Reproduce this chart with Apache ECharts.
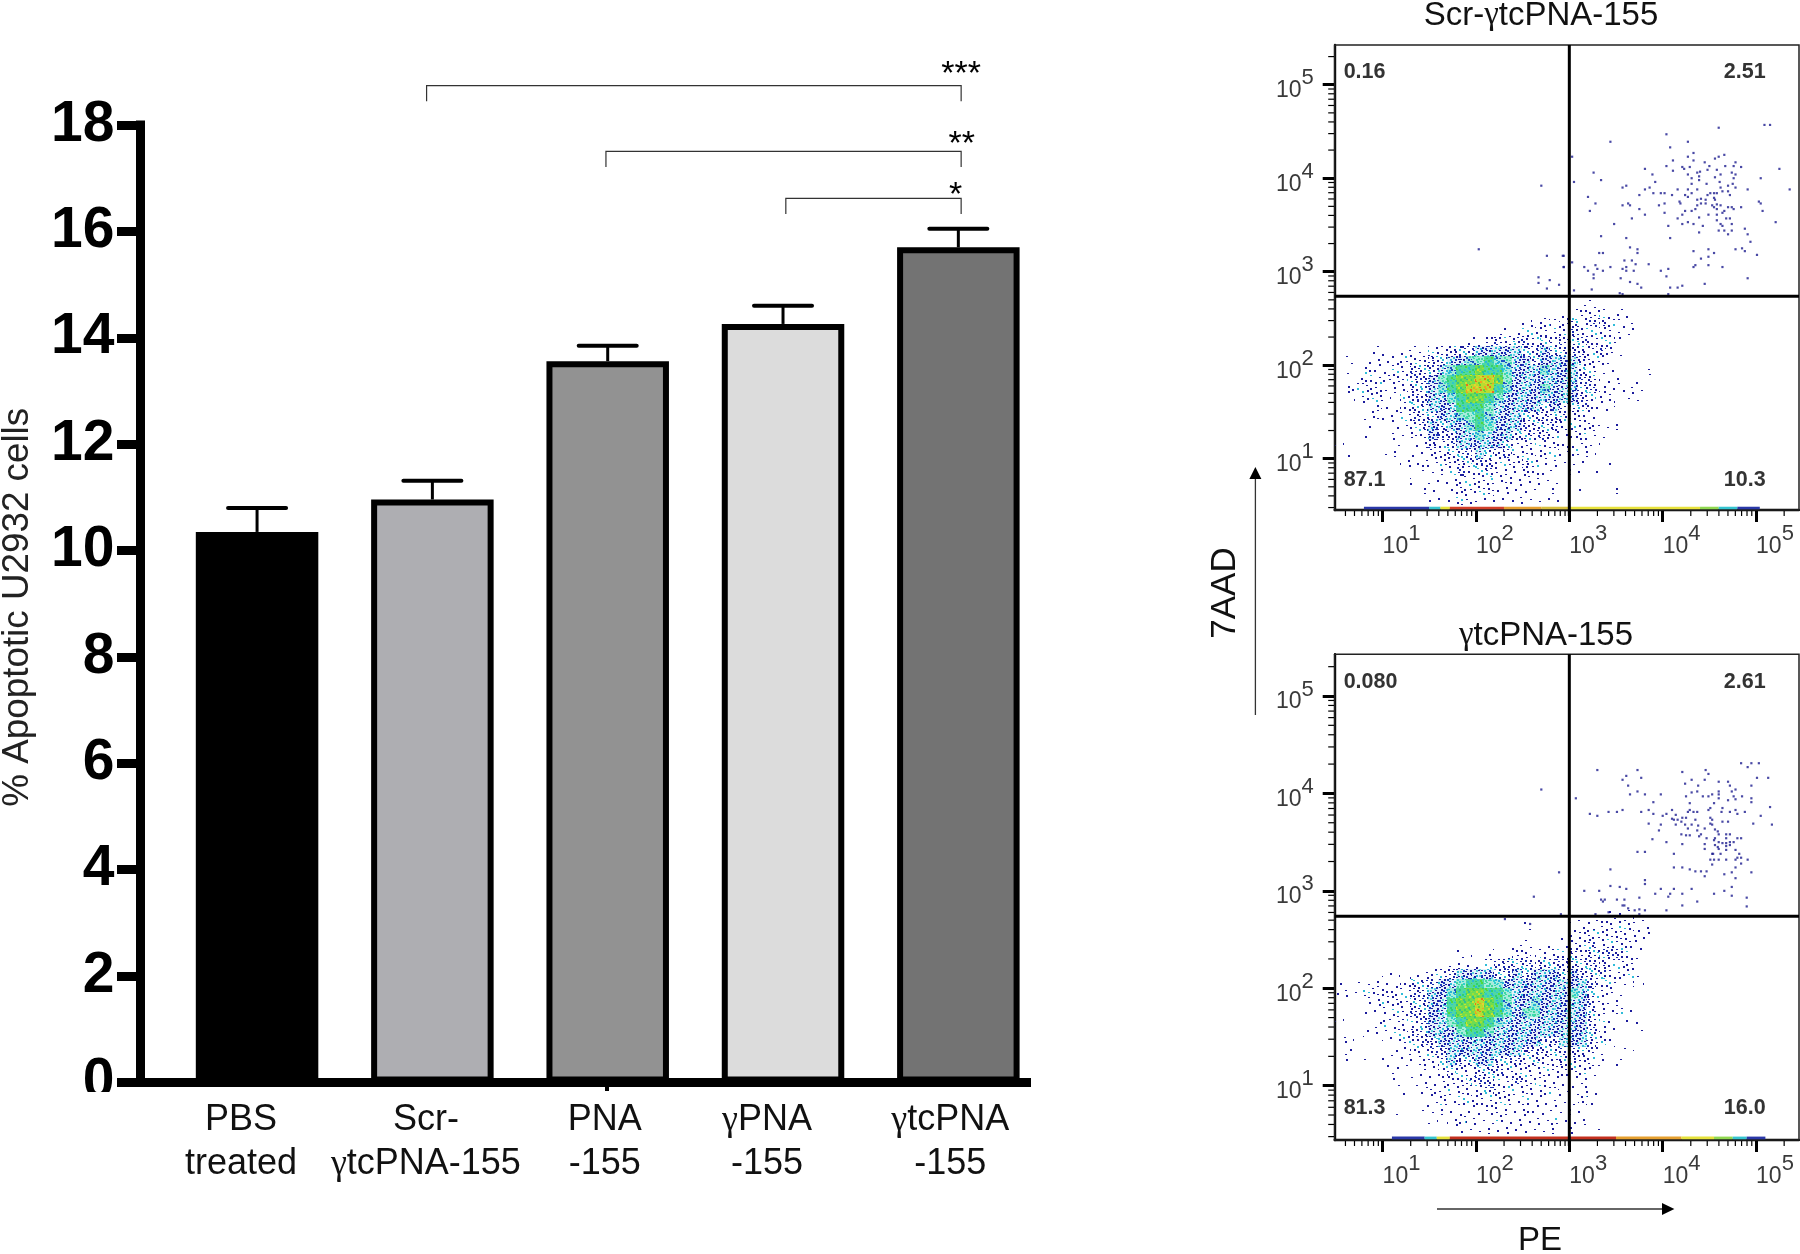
<!DOCTYPE html>
<html><head><meta charset="utf-8">
<script src="https://cdn.jsdelivr.net/npm/echarts@6/dist/echarts.min.js"></script>
<style>html,body{margin:0;padding:0;background:#fff}#c{width:1800px;height:1254px}</style>
</head><body><div id="c"></div>
<script>
// ---------- bar panel ----------
const categories = ['PBS\ntreated','Scr-\nγtcPNA-155','PNA\n-155','γPNA\n-155','γtcPNA\n-155'];
const barValues = [10.35,10.96,13.56,14.26,15.7];
const errorTops = [10.8,11.31,13.85,14.6,16.05];
const barFills = ['#000000','#aeaeb2','#929292','#dcdcdc','#737373'];
const yTicks = [0,18,2];
const bracketStarts = [0.967,1.99,3.016];
const bracketEnds = [4.016,4.016,4.016];
const bracketTops = [18.74,17.505,16.62];
const bracketFeet = [18.445,17.21,16.325];
const starLabels = ['***','**','*'];
const starX = [4.016,4.02,3.985];
const starY = [19.09,17.79,16.82];
const labelShift = [32,13,6,32,16];

// ---------- flow panels (all log10 units) ----------
const decades = [1,2,3,4,5];
const flowXRange = [0.487,5.46];
const flowYRange1 = [0.451,5.425];
const flowYRange2 = [0.4425,5.428];
const gate1 = [3.0,2.737];
const gate2 = [3.0,2.739];
const gateLabels1 = ['0.16','2.51','87.1','10.3'];
const gateLabels2 = ['0.080','2.61','81.3','16.0'];
const gateLabelX = [0.583,4.655,0.583,4.655];
const gateLabelY1 = [5.136,5.136,0.772,0.772];
const gateLabelY2 = [5.147,5.147,0.771,0.771];
const densityOrigin = [0.49,2.8];
const densityStep = 0.1;
const density1 = [
'0000000000'+'0000000000'+'0000000000'+'0000',
'0000000000'+'0000000000'+'0000001110'+'0000',
'0000000000'+'0000000000'+'0000112221'+'1100',
'0000000000'+'0000000000'+'1221232332'+'1100',
'0000000000'+'0000000111'+'2222232222'+'1100',
'0000000000'+'0001112323'+'3232333222'+'1000',
'0000110111'+'2233344444'+'3343333232'+'1000',
'0101111222'+'3344556554'+'4344443221'+'0000',
'0102112233'+'3456676654'+'4454443211'+'0001',
'0022222233'+'4567788754'+'4444443311'+'1010',
'0222211233'+'4567888654'+'4454443321'+'1110',
'0012210233'+'4456776544'+'4444443212'+'0110',
'0000211233'+'4446665444'+'4434333211'+'0000',
'0001211233'+'3445565444'+'3333322100'+'0000',
'0001001123'+'4344565444'+'3333222211'+'1000',
'0001001122'+'4334454443'+'3332122110'+'0000',
'1000001011'+'3234444432'+'2222212110'+'0000',
'0100011011'+'2233343232'+'2222121100'+'0000',
'0000000112'+'1223333222'+'3211111001'+'0000',
'0000000001'+'1123223211'+'2211011010'+'0000',
'0000000010'+'1112222121'+'1111000000'+'0000',
'0000000001'+'1012222111'+'1101001000'+'1000',
'0000000000'+'1112211111'+'1111000000'+'0000'];
const density2 = [
'0000000000'+'0000000000'+'0000000001'+'1100',
'0000000000'+'0000000000'+'1000011122'+'2211',
'0000000000'+'0000000000'+'0000112222'+'2211',
'0000000000'+'0000000001'+'1110122322'+'2210',
'0000000000'+'0001101012'+'2122232333'+'3210',
'0000000000'+'0011112333'+'3333333332'+'2200',
'0000011011'+'2234444334'+'3444343332'+'2210',
'1011111233'+'3445665544'+'4444444322'+'1101',
'1112222233'+'4456776654'+'4444454322'+'1000',
'0001122233'+'4467787654'+'4544444321'+'1000',
'0001112233'+'4467787654'+'5544444321'+'2100',
'1000121223'+'4456776544'+'4444444321'+'0110',
'0001112233'+'4445665444'+'4444444321'+'0010',
'0100011223'+'3444444444'+'4433444321'+'0000',
'0110001122'+'3344444444'+'3333333210'+'0100',
'0101010112'+'2343344333'+'2322332210'+'1000',
'0000011001'+'1232233322'+'2222222110'+'0000',
'0000001011'+'1222333223'+'2221111000'+'0000',
'0000000101'+'2122223222'+'2222112110'+'0000',
'0000000000'+'1212222221'+'2111112100'+'0000',
'0000001001'+'1111112211'+'2111111000'+'0000',
'0000000000'+'1012111211'+'1112111000'+'0000',
'0000000000'+'0001111111'+'1111010010'+'0000'];
const strip1 = [[0.8,1.5,'#2a38a8'],[1.5,1.62,'#35c4d0'],[1.62,1.72,'#e6e23c'],[1.72,2.3,'#d2402a'],[2.3,2.7,'#e6a030'],[2.7,3.0,'#d8c040'],[3.0,4.4,'#e8e23c'],[4.4,4.6,'#90d850'],[4.6,4.8,'#35c4d0'],[4.8,5.04,'#2a38a8']];
const strip2 = [[1.1,1.45,'#2a38a8'],[1.45,1.58,'#35c4d0'],[1.58,1.72,'#e6e23c'],[1.72,3.5,'#c4301e'],[3.5,4.2,'#e6a030'],[4.2,4.55,'#e6e23c'],[4.55,4.75,'#90d850'],[4.75,4.9,'#35c4d0'],[4.9,5.1,'#2a38a8']];
const points1 = [[4.60,4.54],[5.09,4.57],[5.15,4.57],[4.04,4.47],[3.44,4.39],[4.27,4.39],[4.08,4.33],[4.33,4.27],[4.27,4.23],[4.66,4.25],[4.60,4.23],[4.56,4.21],[4.11,4.19],[4.33,4.19],[4.45,4.17],[4.50,4.13],[4.78,4.17],[4.67,4.13],[4.76,4.13],[4.04,4.13],[4.21,4.12],[4.29,4.12],[4.23,4.10],[4.84,4.12],[3.81,4.10],[4.11,4.08],[4.48,4.09],[4.58,4.09],[5.25,4.10],[3.26,4.06],[4.40,4.07],[4.37,4.06],[4.74,4.06],[3.89,4.04],[4.27,4.04],[4.78,4.04],[4.62,4.04],[4.31,4.00],[4.39,4.02],[4.56,4.01],[5.05,4.00],[3.34,3.98],[3.05,3.96],[3.92,3.96],[4.39,3.98],[4.61,3.96],[4.76,4.00],[4.31,3.94],[4.47,3.94],[4.75,3.94],[3.61,3.92],[3.57,3.90],[3.86,3.90],[4.16,3.88],[4.27,3.88],[4.37,3.88],[4.62,3.90],[4.78,3.90],[4.70,3.92],[3.81,3.88],[4.91,3.88],[5.36,3.88],[3.90,3.84],[3.98,3.84],[4.02,3.84],[4.31,3.84],[4.64,3.86],[4.70,3.86],[4.51,3.84],[4.55,3.84],[4.58,3.84],[3.75,3.82],[4.24,3.82],[4.10,3.82],[4.27,3.80],[3.20,3.80],[4.48,3.82],[4.72,3.82],[4.55,3.79],[4.41,3.78],[4.18,3.75],[4.37,3.77],[4.46,3.77],[4.56,3.77],[5.03,3.75],[3.28,3.73],[3.63,3.73],[4.02,3.73],[4.19,3.73],[4.41,3.73],[4.46,3.73],[3.57,3.71],[3.96,3.71],[4.37,3.71],[4.53,3.71],[4.58,3.72],[4.62,3.71],[5.05,3.73],[3.65,3.71],[4.55,3.69],[4.70,3.69],[4.74,3.69],[4.84,3.69],[3.75,3.67],[4.31,3.65],[4.35,3.67],[4.58,3.67],[4.66,3.65],[4.76,3.67],[3.22,3.65],[4.24,3.65],[4.02,3.63],[4.49,3.61],[3.81,3.61],[4.21,3.61],[4.58,3.61],[4.64,3.63],[5.07,3.65],[3.67,3.57],[4.16,3.57],[4.39,3.58],[4.68,3.57],[4.72,3.57],[4.27,3.53],[4.58,3.55],[5.21,3.53],[3.48,3.51],[4.21,3.51],[4.33,3.51],[4.62,3.51],[4.06,3.49],[4.43,3.49],[4.64,3.49],[4.74,3.51],[4.88,3.46],[4.60,3.44],[4.66,3.44],[4.74,3.44],[4.39,3.42],[4.70,3.40],[4.91,3.40],[3.34,3.38],[4.08,3.36],[3.61,3.36],[4.94,3.32],[3.65,3.26],[3.73,3.24],[4.49,3.24],[4.78,3.24],[4.88,3.22],[4.85,3.25],[4.33,3.22],[3.32,3.20],[3.36,3.20],[3.73,3.20],[4.55,3.20],[5.01,3.18],[4.49,3.16],[4.41,3.14],[3.59,3.12],[3.67,3.12],[3.71,3.08],[3.28,3.07],[3.61,3.05],[3.85,3.08],[4.35,3.07],[4.49,3.07],[4.33,3.05],[4.64,3.05],[3.44,3.05],[3.16,3.05],[3.30,3.03],[3.57,3.03],[3.20,3.01],[3.36,3.01],[3.61,3.01],[3.69,3.01],[3.98,3.01],[4.06,3.03],[3.26,2.97],[4.04,2.95],[3.26,2.93],[3.55,2.93],[4.91,2.93],[3.65,2.89],[3.73,2.87],[4.45,2.87],[4.21,2.85],[3.77,2.83],[4.08,2.83],[4.16,2.83],[3.24,2.81],[3.05,2.80],[3.54,2.77],[3.57,2.76],[4.06,2.76],[2.94,3.17],[2.94,3.05],[3.03,4.23],[3.03,3.10],[2.70,3.92],[2.03,3.24],[2.76,3.17],[2.93,3.17],[2.94,3.05],[2.67,2.94],[2.67,2.88],[2.79,2.91],[2.76,2.82],[2.89,2.86]];
const points2 = [[4.84,4.31],[4.95,4.31],[5.03,4.31],[4.91,4.27],[4.46,4.24],[3.30,4.24],[3.73,4.24],[4.21,4.22],[4.49,4.20],[3.61,4.18],[3.77,4.16],[3.57,4.14],[5.01,4.16],[5.13,4.16],[4.31,4.14],[4.45,4.14],[4.60,4.12],[4.70,4.12],[4.24,4.10],[3.63,4.08],[4.38,4.08],[4.72,4.08],[4.95,4.08],[3.73,4.02],[4.60,4.02],[4.37,4.02],[4.78,4.04],[4.74,4.02],[3.81,3.99],[4.31,4.01],[3.98,3.99],[3.65,3.99],[4.60,3.99],[4.53,3.99],[4.25,3.97],[4.43,3.97],[4.49,3.97],[4.76,3.97],[4.85,3.97],[4.60,3.95],[3.07,3.95],[4.78,3.94],[4.95,3.95],[4.70,3.93],[3.90,3.91],[4.95,3.91],[4.55,3.90],[4.29,3.90],[5.15,3.86],[4.10,3.83],[4.51,3.85],[4.64,3.85],[4.29,3.83],[4.27,3.81],[4.33,3.81],[4.37,3.81],[4.49,3.83],[3.42,3.81],[3.51,3.81],[3.57,3.83],[3.77,3.81],[3.85,3.83],[4.63,3.81],[4.72,3.81],[4.88,3.81],[4.78,3.83],[3.22,3.79],[3.90,3.79],[4.04,3.79],[4.80,3.79],[3.30,3.77],[4.00,3.77],[4.14,3.78],[5.05,3.77],[4.10,3.74],[4.16,3.73],[4.25,3.75],[4.21,3.75],[4.35,3.73],[4.51,3.75],[4.53,3.73],[4.12,3.73],[4.20,3.71],[4.64,3.71],[4.70,3.71],[3.85,3.69],[4.51,3.69],[4.97,3.69],[3.98,3.68],[4.14,3.68],[4.24,3.68],[4.31,3.68],[4.38,3.67],[4.53,3.68],[5.17,3.68],[4.27,3.64],[4.37,3.62],[4.45,3.64],[4.56,3.63],[4.59,3.61],[3.96,3.62],[4.20,3.58],[4.25,3.57],[4.29,3.57],[4.39,3.56],[4.41,3.58],[4.60,3.58],[4.68,3.58],[4.72,3.58],[4.55,3.52],[4.47,3.54],[4.56,3.54],[4.80,3.54],[4.84,3.54],[3.89,3.53],[4.68,3.54],[4.60,3.50],[4.64,3.49],[4.68,3.49],[4.72,3.50],[4.76,3.50],[4.04,3.50],[4.21,3.48],[4.45,3.48],[4.56,3.47],[4.72,3.47],[4.59,3.45],[4.45,3.43],[4.60,3.43],[4.68,3.46],[3.73,3.40],[3.81,3.40],[4.12,3.38],[4.53,3.38],[4.54,3.38],[4.62,3.38],[4.68,3.42],[4.78,3.42],[4.82,3.38],[4.80,3.34],[4.84,3.34],[4.51,3.32],[4.55,3.32],[4.60,3.32],[4.68,3.32],[4.78,3.32],[4.91,3.32],[4.84,3.28],[4.53,3.27],[4.12,3.24],[4.21,3.24],[4.29,3.22],[4.78,3.24],[3.44,3.22],[4.35,3.20],[4.41,3.20],[4.47,3.20],[4.74,3.19],[4.95,3.19],[4.66,3.17],[4.45,3.15],[4.78,3.13],[3.81,3.11],[3.81,3.07],[3.44,3.05],[3.54,3.04],[3.61,3.02],[4.74,3.04],[3.98,3.02],[4.12,3.02],[4.31,3.02],[3.16,3.00],[3.32,3.00],[4.66,3.00],[3.92,2.97],[4.08,2.97],[4.21,2.97],[4.55,2.97],[3.75,2.93],[4.06,2.94],[4.74,2.95],[4.90,2.93],[3.34,2.91],[3.38,2.91],[3.51,2.91],[3.59,2.91],[3.36,2.89],[4.37,2.89],[3.59,2.85],[3.57,2.85],[4.21,2.85],[4.90,2.84],[3.63,2.82],[3.75,2.81],[3.70,2.80],[3.81,2.80],[4.04,2.80],[3.42,2.78],[3.75,2.76],[3.28,2.76],[2.70,4.04],[2.89,3.19],[2.62,2.94],[2.58,2.66],[2.31,2.71],[2.91,2.76]];

const FONT = '"Liberation Sans", Arial, sans-serif';
const chart = echarts.init(document.getElementById('c'));

// Texture style for the density cells: a fixed stipple fill per level (cells' levels were read by eye).
const tileStyles = [null,
  {base:null,      dots:60,  colors:['#1b1b9c']},
  {base:null,      dots:140, colors:['#1b1b9c','#1b1b9c','#1b1b9c','#1b1b9c','#30bcd8']},
  {base:null,      dots:280, colors:['#1b1b9c','#1b1b9c','#1b2cb0','#1b1b9c','#30bcd8']},
  {base:'#e6f2fa', dots:480, colors:['#1b1ba0','#1b1ba0','#1a3cc0','#1b1ba0','#30bcd8','#60d8e0']},
  {base:'#a8ecdc', dots:520, colors:['#1a50c8','#28b0d8','#30d0d0','#40d8a0','#40d8b0']},
  {base:'#50d8a0', dots:420, colors:['#30d070','#30c8c8','#50d840','#28b8d8']},
  {base:'#70dc50', dots:420, colors:['#a0e030','#40d060','#c8e030','#30c090']},
  {base:'#b8dc30', dots:420, colors:['#f0a020','#e8d030','#e87020','#60d040']}];
function makeTile(st){
  const S=64, cv=document.createElement('canvas'); cv.width=S; cv.height=S;
  const g=cv.getContext('2d');
  if(st.base){ g.fillStyle=st.base; g.fillRect(0,0,S,S); }
  for(let i=1;i<=st.dots;i++){
    const x=Math.floor(((i*0.7548776662)%1)*S), y=Math.floor(((i*0.5698402910)%1)*S);
    g.fillStyle=st.colors[i%st.colors.length];
    g.fillRect(x,y,2,i%3===0?1:2);
  }
  return {image:cv,repeat:'repeat'};
}
const densityFills = tileStyles.map(st=>st?makeTile(st):null);

function densityData(rows){
  const out=[];
  rows.forEach((row,r)=>{ for(let c=0;c<row.length;c++){ const lv=+row[c];
    if(lv>0) out.push([densityOrigin[0]+c*densityStep, densityOrigin[1]-r*densityStep, lv]); }});
  return out;
}
const minorPositions=[];
for(let n=0;n<6;n++) for(let k=2;k<10;k++) minorPositions.push(Math.log10(k*Math.pow(10,n)));

const flowGrid=(top,height)=>({left:1334.7,width:464.3,top,height,show:true,borderColor:'#222',borderWidth:1.5,backgroundColor:'transparent',outerBoundsMode:'none',z:5});
const flowLabelRich={
  b:{fontFamily:FONT,fontSize:23,color:'#3a3a3a',verticalAlign:'bottom'},
  s:{fontFamily:FONT,fontSize:22,color:'#3a3a3a',verticalAlign:'top',lineHeight:35,padding:[0,0,14,0]}
};
const flowFmt=v=>`{b|10}{s|${v}}`;
const flowX=(gridIndex)=>({type:'value',gridIndex,min:flowXRange[0],max:flowXRange[1],position:'bottom',
  axisLine:{show:true,onZero:false,lineStyle:{color:'#000',width:2.4}},
  axisTick:{show:true,length:12,customValues:decades,lineStyle:{color:'#000',width:3}},
  axisLabel:{show:true,customValues:decades,margin:13,align:'left',formatter:flowFmt,rich:flowLabelRich},
  splitLine:{show:false}});
const flowY=(gridIndex,r)=>({type:'value',gridIndex,min:r[0],max:r[1],position:'left',
  axisLine:{show:true,onZero:false,lineStyle:{color:'#000',width:2.4}},
  axisTick:{show:true,length:12,customValues:decades,lineStyle:{color:'#000',width:3}},
  axisLabel:{show:true,customValues:decades,margin:21,formatter:flowFmt,rich:flowLabelRich},
  splitLine:{show:false}});

function flowSeries(xi,yi,rows,strip,pts,gate,yRange,labels,labelY){
  const common={type:'custom',xAxisIndex:xi,yAxisIndex:yi,silent:true,animation:false};
  return [
    {...common,z:2,data:densityData(rows),renderItem:(p,api)=>{
      const a=api.coord([api.value(0),api.value(1)]), b=api.coord([api.value(0)+densityStep,api.value(1)-densityStep]);
      return {type:'rect',shape:{x:Math.round(a[0]),y:Math.round(a[1]),width:Math.round(b[0])-Math.round(a[0]),height:Math.round(b[1])-Math.round(a[1])},style:{fill:densityFills[api.value(2)]}};
    }},
    {...common,z:3,data:strip.map(s=>[s[0],s[1]]),renderItem:(p,api)=>{
      const a=api.coord([api.value(0),yRange[0]+0.035]), b=api.coord([api.value(1),yRange[0]]);
      return {type:'rect',shape:{x:a[0],y:a[1],width:b[0]-a[0],height:b[1]-a[1]},style:{fill:strip[p.dataIndex][2]}};
    }},
    {type:'scatter',xAxisIndex:xi,yAxisIndex:yi,silent:true,animation:false,z:4,symbol:'rect',symbolSize:2.2,itemStyle:{color:'#1b1b8e'},data:pts},
    {...common,z:6,data:[[gate[0],gate[1]]],renderItem:(p,api)=>{
      const a=api.coord([gate[0],yRange[0]]), b=api.coord([gate[0],yRange[1]]), c=api.coord([flowXRange[0],gate[1]]), d=api.coord([flowXRange[1],gate[1]]);
      const st={stroke:'#000',lineWidth:3};
      return {type:'group',children:[
        {type:'line',shape:{x1:a[0],y1:a[1]+6,x2:b[0],y2:b[1]},style:st},
        {type:'line',shape:{x1:c[0],y1:c[1],x2:d[0],y2:d[1]},style:st}]};
    }},
    {...common,z:3,data:minorPositions.filter(v=>v>flowXRange[0]&&v<flowXRange[1]),renderItem:(p,api)=>{
      const a=api.coord([api.value(0),yRange[0]]);
      return {type:'line',shape:{x1:a[0],y1:a[1],x2:a[0],y2:a[1]+6},style:{stroke:'#000',lineWidth:1.2}};
    }},
    {...common,z:3,data:minorPositions.filter(v=>v>yRange[0]&&v<yRange[1]),renderItem:(p,api)=>{
      const a=api.coord([flowXRange[0],api.value(0)]);
      return {type:'line',shape:{x1:a[0],y1:a[1],x2:a[0]-6.5,y2:a[1]},style:{stroke:'#000',lineWidth:1.2}};
    }},
    {...common,z:7,data:labels.map((t,i)=>[gateLabelX[i],labelY[i]]),renderItem:(p,api)=>{
      const a=api.coord([api.value(0),api.value(1)]);
      return {type:'text',style:{x:a[0],y:a[1],text:labels[p.dataIndex],fill:'#333',font:'bold 21.5px '+FONT,textVerticalAlign:'middle'}};
    }}
  ];
}

const gridTop=125, gridH=957.5;
const titleRich={t:{fontFamily:FONT,fontSize:33,fontWeight:'normal',color:'#111'},g:{fontFamily:'"Liberation Serif"',fontSize:33,fontWeight:'normal',color:'#111'}};
const option={
  animation:false,
  backgroundColor:'#ffffff',
  title:[
    {text:'{t|Scr-}{g|γ}{t|tcPNA-155}',left:1536,top:-6,textAlign:'center',textStyle:{fontWeight:'normal',rich:titleRich}},
    {text:'{g|γ}{t|tcPNA-155}',left:1541,top:614,textAlign:'center',textStyle:{fontWeight:'normal',rich:titleRich}}
  ],
  grid:[
    {left:169.4,width:876.6,top:gridTop,height:gridH,outerBoundsMode:'none'},
    {left:117,width:914,top:gridTop,height:gridH,outerBoundsMode:'none'},
    flowGrid(45,465),
    flowGrid(654.3,485.7)
  ],
  xAxis:[
    {type:'category',gridIndex:0,data:categories,axisLine:{show:false},axisTick:{show:false},
     axisLabel:{margin:16,interval:0,
       formatter:(v,i)=>v.split('\n').map(l=>l[0]==='γ'?`{g|γ}{t${i}|${l.slice(1)}}`:`{t${i}|${l}}`).join('\n'),
       rich:Object.assign({g:{fontFamily:'"Liberation Serif"',fontSize:36,color:'#111',lineHeight:44}},
         Object.fromEntries(labelShift.map((s,i)=>['t'+i,{fontFamily:FONT,fontSize:36,color:'#111',lineHeight:44,padding:[0,s,0,0]}])))}},
    {type:'value',gridIndex:0,min:-0.5,max:4.5,show:false},
    {type:'value',gridIndex:1,min:0,max:1,position:'bottom',axisLine:{show:true,onZero:false,lineStyle:{color:'#000',width:9,cap:'butt'}},axisTick:{show:false},axisLabel:{show:false},splitLine:{show:false}},
    flowX(2),flowX(3)
  ],
  yAxis:[
    {type:'value',gridIndex:0,min:yTicks[0],max:yTicks[1],interval:yTicks[2],offset:29,
     name:'% Apoptotic U2932 cells',nameLocation:'middle',nameGap:104,
     nameTextStyle:{fontFamily:FONT,fontSize:36.8,color:'#222',padding:[0,7,0,0]},
     axisLine:{show:true,onZero:false,lineStyle:{color:'#000',width:9,cap:'square'}},
     axisTick:{show:true,length:23.4,lineStyle:{color:'#000',width:9}},
     axisLabel:{margin:26,padding:[4,0,0,0],fontFamily:FONT,fontWeight:'bold',fontSize:57,color:'#000'},
     splitLine:{show:false}},
    {type:'value',gridIndex:1,min:0,max:1,show:false},
    flowY(2,flowYRange1),flowY(3,flowYRange2)
  ],
  series:[
    {type:'bar',xAxisIndex:0,yAxisIndex:0,barWidth:122.5,z:2,silent:true,
     data:barValues.map((v,i)=>({value:v,itemStyle:{color:barFills[i],borderColor:'#000',borderWidth:6}}))},
    {type:'custom',xAxisIndex:1,yAxisIndex:0,z:3,silent:true,data:errorTops.map((t,i)=>[i,barValues[i],t]),
     renderItem:(p,api)=>{
       const a=api.coord([api.value(0),api.value(1)]), b=api.coord([api.value(0),api.value(2)]);
       return {type:'group',children:[
         {type:'line',shape:{x1:a[0],y1:a[1],x2:b[0],y2:b[1]},style:{stroke:'#000',lineWidth:3}},
         {type:'line',shape:{x1:b[0]-29,y1:b[1],x2:b[0]+29,y2:b[1]},style:{stroke:'#000',lineWidth:4,lineCap:'round'}}]};
     }},
    {type:'custom',xAxisIndex:1,yAxisIndex:0,z:3,silent:true,data:bracketStarts.map((s,i)=>[s,bracketEnds[i],bracketTops[i],bracketFeet[i]]),
     renderItem:(p,api)=>{
       const a=api.coord([api.value(0),api.value(3)]), b=api.coord([api.value(0),api.value(2)]), c=api.coord([api.value(1),api.value(2)]), d=api.coord([api.value(1),api.value(3)]);
       return {type:'polyline',shape:{points:[a,b,c,d]},style:{stroke:'#333',lineWidth:1.2,fill:null}};
     }},
    {type:'custom',xAxisIndex:1,yAxisIndex:0,z:3,silent:true,data:starLabels.map((s,i)=>[starX[i],starY[i]]),
     renderItem:(p,api)=>{
       const a=api.coord([api.value(0),api.value(1)]);
       return {type:'text',style:{x:a[0],y:a[1]+8,text:starLabels[p.dataIndex],fill:'#000',font:'34px '+FONT,textAlign:'center',textVerticalAlign:'middle'}};
     }},
    ...flowSeries(3,2,density1,strip1,points1,gate1,flowYRange1,gateLabels1,gateLabelY1),
    ...flowSeries(4,3,density2,strip2,points2,gate2,flowYRange2,gateLabels2,gateLabelY2)
  ],
  graphic:[
    {type:'rect',z:100,shape:{x:55,y:1092,width:60,height:20},style:{fill:'#fff'}},
    {type:'rect',z:100,shape:{x:605,y:1087,width:4,height:4},style:{fill:'#000'}},
    {type:'line',z:100,shape:{x1:1255.4,y1:715,x2:1255.4,y2:478},style:{stroke:'#333',lineWidth:1.3}},
    {type:'polygon',z:100,shape:{points:[[1255.4,467],[1249.4,479],[1261.4,479]]},style:{fill:'#000'}},
    {type:'line',z:100,shape:{x1:1437,y1:1209,x2:1663,y2:1209},style:{stroke:'#333',lineWidth:1.3}},
    {type:'polygon',z:100,shape:{points:[[1674.4,1209],[1662,1203],[1662,1215]]},style:{fill:'#000'}},
    {type:'text',z:100,x:1225,y:593,rotation:Math.PI/2,style:{text:'7AAD',fill:'#111',font:'35px '+FONT,textAlign:'center',textVerticalAlign:'middle'}},
    {type:'text',z:100,x:1540,y:1241,style:{text:'PE',fill:'#111',font:'33px '+FONT,textAlign:'center',textVerticalAlign:'middle'}}
  ]
};
chart.setOption(option);
</script></body></html>
